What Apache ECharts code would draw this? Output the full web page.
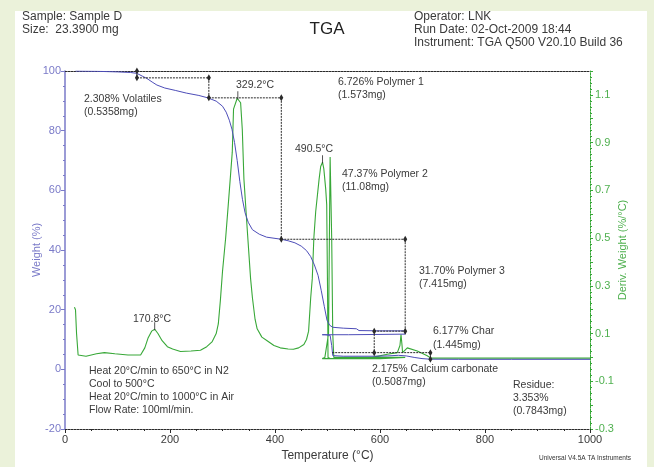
<!DOCTYPE html>
<html><head><meta charset="utf-8">
<script src="https://cdn.jsdelivr.net/npm/echarts@6/dist/echarts.min.js"></script>
<style>html,body{margin:0;padding:0;background:#EBF2DA}#c{width:654px;height:467px}</style>
</head><body><div id="c"></div>
<script>
// ---- data ----
const xTickLabels = [0, 200, 400, 600, 800, 1000];
// TGA weight curve (heat N2 -> 650, cool -> 500, heat in air -> 1000)
const weightT = [20,60,100,125,137,147,156,166,175,190,210,231,255,272,288,300,307,313,318,323,328,333,338,343,349,357,370,384,400,412,425,438,450,460,468,475,482,488,494,499,504,510,530,555,560,600,648,
                 648,600,540,490,
                 495,505,508,510,530,590,615,635,650,665,680,695,750,850,1000];
const weightPct = [100,99.9,99.7,99.5,99.2,98.3,97.5,96.3,95.3,94.3,93.5,92.6,91.8,91.0,89.9,88.2,86.2,83.5,80.5,76,70,63,57,52.5,49.3,46.8,45.3,44.3,43.9,43.6,43.1,42.4,41.3,39.8,37.8,35,31.5,26.5,21,16.5,14.8,14.1,13.8,13.6,13.0,12.9,12.9,
                 11.8,11.7,11.6,11.6,
                 11.6,11.4,8,4.6,4.4,4.4,4.5,4.7,4.5,4.0,3.6,3.4,3.35,3.35,3.35];
// Derivative weight curve
const dtgT = [18,20,22,25,40,60,75,95,120,144,152,158,165,171,177,185,195,205,220,240,258,270,280,288,292,296,300,306,311,315.5,318.6,321,328,334.5,337.7,340.8,347,353.5,357,362,366,375,385,398,410,425,435,445,455,460,464,468,471,474,477.5,484,487,490.5,493,496.6,498.5,500,501,505,550,600,648,
              648,600,540,490,
              495,502,504,505,507,508,510,512,530,570,585,614,633,638,640,642,643,652,671,690,697,800,1000];
const dtgVal = [0.21,0.2,0.1,0.01,0.005,0.015,0.02,0.015,0.01,0.01,0.04,0.08,0.11,0.118,0.1,0.07,0.045,0.035,0.025,0.027,0.03,0.045,0.065,0.1,0.14,0.24,0.36,0.5,0.64,0.77,0.86,1.04,1.086,1.067,0.955,0.747,0.54,0.33,0.25,0.16,0.12,0.085,0.07,0.05,0.04,0.035,0.034,0.04,0.054,0.075,0.11,0.25,0.33,0.5,0.61,0.747,0.8,0.818,0.79,0.705,0.64,0.3,0.0,-0.005,0,0,0,
                -0.005,-0.005,-0.005,-0.005,
                0,0.1,0.6,0.84,0.84,0.5,0.1,0.0,0.0,0.0,0.0,0.013,0.02,0.05,0.096,0.05,0.02,0.04,0.027,0.007,-0.003,-0.003,-0.003];
// Step-change analysis marks
const stepT = [137, 274, 412, 648, 589, 696];
const stepTop = [100, 97.7, 91.0, 43.6, 12.8, 5.6];
const stepBottom = [97.7, 91.0, 43.6, 12.8, 5.6, 3.35];
const levelFrom = [137, 274, 412, 589, 509];
const levelTo = [274, 412, 648, 648, 696];
const levelW = [97.7, 91.0, 43.6, 12.8, 5.6];
// Peak marks on derivative curve
const peakT = [170.8, 329.2, 490.5];
const peakV = [0.118, 1.086, 0.818];

// ---- chart ----
const zip = (a, b) => a.map((v, i) => [v, b[i]]);
const FONT = '"Liberation Sans", Arial, sans-serif';
const BLUE = '#4D4DB8', GREEN = '#38A838', LAV = '#7A7AC8', GTXT = '#4FB04F', INK = '#2a2a2a';

const series = [
  { type: 'line', xAxisIndex: 0, yAxisIndex: 1, data: zip(dtgT, dtgVal), showSymbol: false,
    lineStyle: { color: GREEN, width: 1.1 }, z: 3 },
  { type: 'line', xAxisIndex: 0, yAxisIndex: 0, data: zip(weightT, weightPct), showSymbol: false,
    lineStyle: { color: BLUE, width: 1 }, z: 4 }
];
levelW.forEach((w, i) => series.push({
  type: 'line', xAxisIndex: 0, yAxisIndex: 0, data: [[levelFrom[i], w], [levelTo[i], w]],
  showSymbol: false, lineStyle: { color: INK, width: 1, type: [2, 1] }, z: 5
}));
stepT.forEach((t, i) => series.push({
  type: 'line', xAxisIndex: 0, yAxisIndex: 0, data: [[t, stepTop[i]], [t, stepBottom[i]]],
  symbol: 'diamond', symbolSize: [4, 7], itemStyle: { color: INK },
  lineStyle: { color: INK, width: 1, type: [2, 1] }, z: 6
}));
series.push({
  type: 'scatter', xAxisIndex: 0, yAxisIndex: 1, data: zip(peakT, peakV),
  symbol: 'rect', symbolSize: [1, 8], symbolOffset: [0, -3], itemStyle: { color: INK }, z: 6
});

const txt = (x, y, text, size, fill, extra) => Object.assign({
  type: 'text', x, y, silent: true,
  style: Object.assign({ text, font: (size || 11) + 'px ' + FONT, fill: fill || '#3a3a3a', verticalAlign: 'middle' }, extra || {})
});
const graphics = [
  { type: 'rect', shape: { x: 15, y: 11, width: 632, height: 456 }, style: { fill: '#fff' }, z: -10 },
  txt(22, 17, 'Sample: Sample D', 12),
  txt(22, 30, 'Size:  23.3900 mg', 12),
  txt(327, 29, 'TGA', 17, '#222', { align: 'center' }),
  txt(414, 17, 'Operator: LNK', 12),
  txt(414, 30, 'Run Date: 02-Oct-2009 18:44', 12),
  txt(414, 43, 'Instrument: TGA Q500 V20.10 Build 36', 12),
  txt(84, 99, '2.308% Volatiles', 10.5),
  txt(84, 112, '(0.5358mg)', 10.5),
  txt(236, 85, '329.2°C', 10.5),
  txt(338, 82, '6.726% Polymer 1', 10.5),
  txt(338, 95, '(1.573mg)', 10.5),
  txt(295, 149, '490.5°C', 10.5),
  txt(342, 174, '47.37% Polymer 2', 10.5),
  txt(342, 187, '(11.08mg)', 10.5),
  txt(419, 271, '31.70% Polymer 3', 10.5),
  txt(419, 284, '(7.415mg)', 10.5),
  txt(433, 331, '6.177% Char', 10.5),
  txt(433, 345, '(1.445mg)', 10.5),
  txt(372, 369, '2.175% Calcium carbonate', 10.5),
  txt(372, 382, '(0.5087mg)', 10.5),
  txt(513, 385, 'Residue:', 10.5),
  txt(513, 398, '3.353%', 10.5),
  txt(513, 411, '(0.7843mg)', 10.5),
  txt(133, 319, '170.8°C', 10.5),
  txt(89, 371, 'Heat 20°C/min to 650°C in N2', 10.5),
  txt(89, 384, 'Cool to 500°C', 10.5),
  txt(89, 397, 'Heat 20°C/min to 1000°C in Air', 10.5),
  txt(89, 410, 'Flow Rate: 100ml/min.', 10.5),
  txt(585, 458, 'Universal V4.5A TA Instruments', 6.5, '#333', { align: 'center' })
];

const chart = echarts.init(document.getElementById('c'), null, { renderer: 'canvas' });
chart.setOption({
  animation: false,
  backgroundColor: '#EBF2DA',
  textStyle: { fontFamily: FONT },
  grid: { left: 65, right: 64, top: 71, bottom: 35 },
  xAxis: [
    { type: 'value', position: 'bottom', min: 0, max: 1000, interval: 200,
      name: 'Temperature (°C)', nameLocation: 'middle', nameGap: 21, nameMoveOverlap: false,
      nameTextStyle: { color: '#3a3a3a', fontSize: 12, fontFamily: FONT },
      axisLine: { onZero: false, lineStyle: { color: INK, width: 1, type: [2, 1] } },
      axisTick: { show: true, inside: false, length: 4, lineStyle: { color: INK } },
      minorTick: { show: true, splitNumber: 4, length: 2, lineStyle: { color: INK } },
      axisLabel: { color: '#3a3a3a', fontSize: 11, margin: 5, fontFamily: FONT,
        formatter: v => xTickLabels.includes(v) ? String(v) : '' },
      splitLine: { show: false } },
    { type: 'value', position: 'top', min: 0, max: 1000,
      axisLine: { onZero: false, lineStyle: { color: INK, width: 1, type: [2, 1] } },
      axisTick: { show: false }, axisLabel: { show: false }, splitLine: { show: false } }
  ],
  yAxis: [
    { type: 'value', position: 'left', min: -20, max: 100, interval: 20,
      name: 'Weight (%)', nameLocation: 'middle', nameGap: 23, nameRotate: 90, nameMoveOverlap: false,
      nameTextStyle: { color: LAV, fontSize: 11, fontFamily: FONT },
      axisLine: { onZero: false, lineStyle: { color: LAV, width: 1.5 } },
      axisTick: { show: true, inside: false, length: 4, lineStyle: { color: LAV } },
      minorTick: { show: true, splitNumber: 4, length: 2, lineStyle: { color: LAV } },
      axisLabel: { color: LAV, fontSize: 11, margin: 4, fontFamily: FONT },
      splitLine: { show: false } },
    { type: 'value', position: 'right', min: -0.3, max: 1.2, interval: 0.1,
      name: 'Deriv. Weight (%/°C)', nameLocation: 'middle', nameGap: 27, nameRotate: 90, nameMoveOverlap: false,
      nameTextStyle: { color: GTXT, fontSize: 11, fontFamily: FONT },
      axisLine: { onZero: false, lineStyle: { color: GREEN, width: 1, type: [2, 1] } },
      axisTick: { show: true, inside: false, length: 3, lineStyle: { color: GREEN } },
      minorTick: { show: true, splitNumber: 4, length: 2, lineStyle: { color: GREEN } },
      axisLabel: { color: GTXT, fontSize: 11, margin: 5, fontFamily: FONT,
        formatter: v => { const k = Math.round(v * 10); return Math.abs(k) % 2 === 1 ? (k / 10).toFixed(1) : ''; } },
      splitLine: { show: false } }
  ],
  graphic: graphics,
  series
});
</script></body></html>
